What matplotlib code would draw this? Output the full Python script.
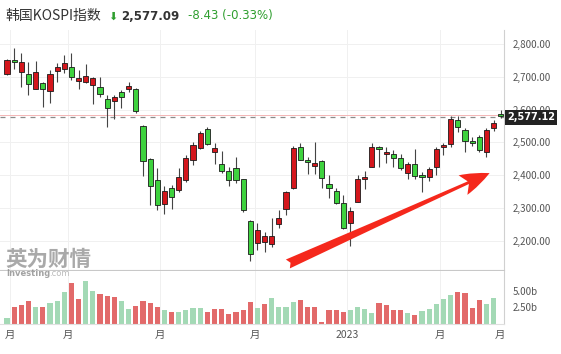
import matplotlib.pyplot as plt
import matplotlib.transforms as mtransforms

plt.rcParams['font.family'] = ['Noto Sans CJK SC', 'DejaVu Sans']

# weekly KOSPI candles
opens = [2708, 2752, 2716, 2708, 2663, 2681, 2657, 2719, 2724, 2730,
         2688, 2684, 2675, 2669, 2634, 2625, 2653, 2663, 2662, 2551,
         2450, 2385, 2313, 2360, 2354, 2387, 2448, 2483, 2542, 2470,
         2433, 2412, 2421, 2389, 2260, 2192, 2196, 2190, 2250, 2297,
         2360, 2485, 2446, 2428, 2442, 2372, 2353, 2314, 2253, 2319,
         2388, 2426, 2487, 2464, 2465, 2454, 2408, 2433, 2401, 2395,
         2426, 2485, 2494, 2570, 2538, 2505, 2517, 2472, 2543, 2588]
closes = [2751, 2746, 2746, 2678, 2715, 2663, 2708, 2730, 2741, 2700,
          2697, 2704, 2697, 2647, 2606, 2639, 2639, 2672, 2597, 2444,
          2368, 2309, 2352, 2333, 2395, 2452, 2491, 2529, 2495, 2484,
          2412, 2387, 2384, 2293, 2160, 2233, 2215, 2215, 2269, 2348,
          2482, 2448, 2440, 2438, 2392, 2362, 2316, 2238, 2291, 2388,
          2395, 2485, 2479, 2472, 2452, 2423, 2434, 2398, 2395, 2418,
          2479, 2492, 2573, 2546, 2504, 2499, 2477, 2538, 2560, 2582]
highs = [2755, 2788, 2773, 2745, 2747, 2683, 2720, 2743, 2766, 2772,
         2720, 2738, 2700, 2700, 2645, 2645, 2660, 2685, 2665, 2553,
         2452, 2422, 2367, 2370, 2422, 2462, 2502, 2535, 2546, 2499,
         2474, 2426, 2455, 2390, 2262, 2255, 2228, 2269, 2294, 2352,
         2490, 2499, 2455, 2502, 2445, 2400, 2360, 2340, 2304, 2400,
         2414, 2499, 2490, 2487, 2477, 2465, 2441, 2479, 2411, 2426,
         2487, 2499, 2580, 2580, 2544, 2517, 2522, 2544, 2568, 2598]
lows = [2705, 2725, 2669, 2645, 2663, 2608, 2620, 2685, 2711, 2690,
        2663, 2680, 2617, 2639, 2548, 2571, 2605, 2655, 2590, 2398,
        2309, 2294, 2282, 2297, 2349, 2380, 2431, 2480, 2492, 2434,
        2406, 2368, 2376, 2287, 2138, 2172, 2167, 2182, 2238, 2279,
        2358, 2446, 2403, 2403, 2361, 2330, 2312, 2236, 2185, 2319,
        2358, 2426, 2426, 2436, 2426, 2416, 2388, 2388, 2350, 2382,
        2400, 2462, 2487, 2533, 2470, 2489, 2472, 2456, 2536, 2576]

# volume in billions, 'u' = red bar, 'd' = green bar
volumes = [0.95, 2.53, 2.83, 3.44, 2.58, 2.58, 3.23, 3.48, 4.85, 6.17,
           3.79, 6.56, 5.00, 4.55, 4.24, 4.09, 3.53, 2.27, 2.73, 3.44,
           3.14, 2.58, 2.08, 1.77, 1.77, 2.17, 2.42, 2.42, 1.77, 2.32,
           2.32, 1.56, 1.82, 2.17, 3.27, 2.36, 2.97, 3.94, 2.52, 2.52,
           3.38, 3.68, 2.58, 2.58, 0.23, 2.17, 2.12, 1.82, 2.06, 2.58,
           2.27, 1.67, 3.18, 2.82, 2.17, 2.17, 1.71, 1.36, 1.97, 2.27,
           2.97, 3.79, 4.33, 4.79, 4.64, 2.47, 3.64, 2.97, 3.94]
vol_dir = list('duuududddu' 'udduuudduu'
               'uudud' 'ddduu' 'uuuuu' 'dudddd'
               'uuuuuuudddd' 'uuuududdddd' 'uuuudd')

price_ticks = [2200, 2300, 2400, 2500, 2600, 2700, 2800]
last_price = 2577.12
x_tick_pos = [0.42, 8.5, 21.4, 34.7, 47.5, 60.5, 68.9]
x_tick_labels = ['月', '月', '月', '月', '2023', '月', '月']

RED = '#d4161c'
GREEN = '#3ed23e'
VRED = '#e26a6a'
VGREEN = '#a3d9b5'

fig = plt.figure(figsize=(5.61, 3.54), dpi=100)
W, H = 561, 354
ax = fig.add_axes([0, (H - 270) / H, 504 / W, 240 / H])
axv = fig.add_axes([0, (H - 324) / H, 504 / W, 53 / H], sharex=ax)

idx = list(range(len(opens)))
body_lo = [min(o, c) for o, c in zip(opens, closes)]
body_h = [max(abs(c - o), 2.5) for o, c in zip(opens, closes)]
colors = [RED if c >= o else GREEN for o, c in zip(opens, closes)]

ax.vlines(idx, lows, highs, color='#444444', lw=0.8, zorder=2)
ax.bar(idx, body_h, bottom=body_lo, width=0.72, color=colors,
       edgecolor='#1a1a1a', linewidth=0.6, zorder=3)

ax.set_xlim(-0.98, 69.46)
ax.set_ylim(2111, 2843)
for y in price_ticks:
    ax.axhline(y, color='#f0f0f0', lw=0.7, zorder=0)
for x in x_tick_pos[:-1]:
    ax.axvline(x, color='#f0f0f0', lw=0.7, zorder=0)
    axv.axvline(x, color='#f0f0f0', lw=0.7, zorder=0)

ax.axhline(2585, color='#f4b6b6', lw=0.7, zorder=1)
ax.axhline(last_price, color='#8a8a8a', lw=0.9, ls=(0, (4, 4)), zorder=1)

ax.yaxis.tick_right()
ax.set_yticks(price_ticks)
ax.set_yticklabels([f'{v:,.2f}' for v in price_ticks])
ax.tick_params(axis='y', length=0, pad=6, labelsize=7, labelcolor='#555555')
ax.tick_params(axis='x', length=0, labelbottom=False)
for s in ['left', 'top']:
    ax.spines[s].set_visible(False)
ax.spines['right'].set_color('#d0d0d0')
ax.spines['bottom'].set_color('#c8c8c8')

tr = mtransforms.blended_transform_factory(ax.transAxes, ax.transData)
ax.text(1.006, last_price, f'{last_price:,.2f}', transform=tr, va='center',
        ha='left', color='white', fontsize=7, fontweight='bold',
        family='DejaVu Sans',
        bbox=dict(boxstyle='square,pad=0.25', fc='#222222', ec='none'),
        clip_on=False, zorder=5)

ax.annotate('', xy=(67.8, 2410), xytext=(38.9, 2126),
            arrowprops=dict(arrowstyle='fancy,head_length=1.5,head_width=1.1,tail_width=0.5',
                            color='#f5281c', mutation_scale=14, lw=0),
            zorder=6)

# volume panel
vi = list(range(len(volumes)))
vcol = [VRED if d == 'u' else VGREEN for d in vol_dir]
axv.bar(vi, volumes, width=0.72, color=vcol, zorder=2)
axv.set_ylim(0, 8.0)
axv.yaxis.tick_right()
axv.set_yticks([2.5, 5.0])
axv.set_yticklabels(['2.50b', '5.00b'])
axv.tick_params(axis='y', length=0, pad=6, labelsize=7, labelcolor='#555555')
axv.set_xticks(x_tick_pos)
axv.set_xticklabels(x_tick_labels)
axv.tick_params(axis='x', length=0, pad=4, labelsize=7.5, labelcolor='#555555')
for s in ['left', 'top']:
    axv.spines[s].set_visible(False)
axv.spines['right'].set_color('#d0d0d0')
axv.spines['bottom'].set_color('#e0e0e0')

# header
fig.text(5 / W, 1 - 16 / H, '韩国KOSPI指数', fontsize=10, color='#333333', va='center')
fig.text(108 / W, 1 - 16.5 / H, '\u2b07', fontsize=8, color='#2e9e2e', va='center',
         family='DejaVu Sans')
fig.text(121 / W, 1 - 16 / H, '2,577.09', fontsize=8.5, color='#333333',
         fontweight='bold', va='center', family='DejaVu Sans')
fig.text(188 / W, 1 - 16 / H, '-8.43 (-0.33%)', fontsize=8.5, color='#2e9e2e',
         va='center', family='DejaVu Sans')

# watermark
fig.text(5 / W, 1 - 259 / H, '英为财情', fontsize=15.5, color='#8c8c8c',
         fontweight='bold', va='center', alpha=0.75)
fig.text(6 / W, 1 - 273 / H, 'Investing', fontsize=6, color='#8c8c8c',
         fontweight='bold', va='center', family='DejaVu Sans', alpha=0.8)
fig.text(49 / W, 1 - 273 / H, '.com', fontsize=6, color='#bbbbbb',
         va='center', family='DejaVu Sans')

fig.savefig('out.png', dpi=100)
